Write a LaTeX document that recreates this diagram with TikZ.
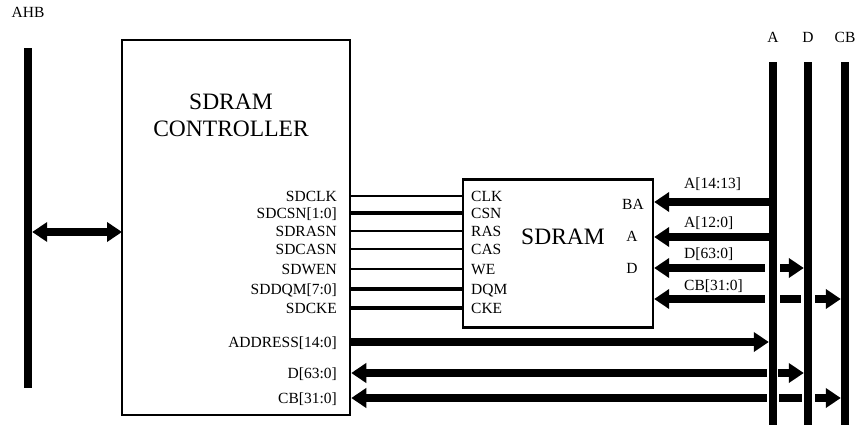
\documentclass[tikz,border=0pt]{standalone}
\usepackage{fontspec}
\setmainfont{Liberation Serif}
\usetikzlibrary{arrows.meta,positioning}
\newcommand{\sigfont}{\fontsize{15.5}{17}\selectfont}
\newcommand{\blockfont}{\fontsize{23.5}{27}\selectfont}
\tikzset{
  block/.style={
    draw=black,
    line width=2.5pt,
    inner sep=0pt
  },
  bus-bar/.style={
    fill=black,
    inner sep=0pt,
    minimum width=8pt
  },
  sig-label/.style={
    font=\sigfont,
    inner sep=0pt,
    text height=10.3pt,
    text depth=0pt
  },
  thin-sig/.style={line width=1.2pt},
  thick-sig/.style={line width=3.5pt},
  bus-arrow/.style={
    line width=7.5pt,
    >={Triangle[length=15pt,width=19pt]}
  }
}

\begin{document}
\begin{tikzpicture}[x=1pt, y=-1pt]
  \useasboundingbox (0,0) rectangle (856,425);
  % AHB side
  \node[bus-bar, minimum height=340pt] (ahb) at (28,218) {};
  \node[sig-label, above=30pt of ahb] (ahb-label) {AHB};
  \node[block, minimum width=228pt, minimum height=375pt] (ctrl) at (236,227.5) {};
  \node[font=\blockfont, align=center] (ctrl-title) at (231,115) {SDRAM\\CONTROLLER};
  \coordinate (ctrl-port) at (122,232);
  \draw[bus-arrow, <->] (ahb.east |- ctrl-port) -- (ctrl-port);
  % memory
  \node[block, line width=2.3pt, minimum width=190pt, minimum height=148pt] (sdram) at (558,253.5) {};
  \node[font=\blockfont] (sdram-title) at (563,236.5) {SDRAM};
  \foreach \n/\s/\p/\y/\w in {clk/SDCLK/CLK/196/thin-sig,
      csn/SDCSN[1:0]/CSN/213/thick-sig,
      ras/SDRASN/RAS/231/thin-sig,
      cas/SDCASN/CAS/249/thin-sig,
      we/SDWEN/WE/269/thin-sig,
      dqm/SDDQM[7:0]/DQM/289/thick-sig,
      cke/SDCKE/CKE/308/thick-sig} {
    \node[sig-label, anchor=east] (c-\n) at (337,\y) {\s};
    \node[sig-label, anchor=west] (p-\n) at (471,\y) {\p};
    \draw[\w] (ctrl.east |- p-\n) -- (sdram.west |- p-\n);
  }
  \node[sig-label] (p-ba) at (633,204) {BA};
  \node[sig-label] (p-a) at (632,236.5) {A};
  \node[sig-label] (p-d) at (632,268) {D};
  % memory buses
  \node[bus-bar, minimum height=363pt] (bus-a) at (773,243.5) {};
  \node[bus-bar, minimum height=363pt] (bus-d) at (808,243.5) {};
  \node[bus-bar, minimum height=363pt] (bus-cb) at (845,243.5) {};
  \node[sig-label, above=19pt of bus-a] (bus-a-label) {A};
  \node[sig-label, above=19pt of bus-d] (bus-d-label) {D};
  \node[sig-label, above=19pt of bus-cb] (bus-cb-label) {CB};
  \coordinate (tap-ba) at (773,202);
  \coordinate (tap-a) at (773,237);
  \coordinate (tap-d) at (773,268);
  \coordinate (tap-cb) at (773,299);
  \node[sig-label, anchor=west] (l-ba) at (684,183) {A[14:13]};
  \node[sig-label, anchor=west] (l-a) at (684,222) {A[12:0]};
  \node[sig-label, anchor=west] (l-d) at (684,253) {D[63:0]};
  \node[sig-label, anchor=west] (l-cb) at (684,285) {CB[31:0]};
  \draw[bus-arrow, <-] (sdram.east |- tap-ba) -- (tap-ba);
  \draw[bus-arrow, <-] (sdram.east |- tap-a) -- (tap-a);
  \draw[bus-arrow, <-, shorten >=4pt] (sdram.east |- tap-d) -- (bus-a.west |- tap-d);
  \draw[bus-arrow, ->, shorten <=3pt] (bus-a.east |- tap-d) -- (bus-d.west |- tap-d);
  \draw[bus-arrow, <-, shorten >=4pt] (sdram.east |- tap-cb) -- (bus-a.west |- tap-cb);
  \draw[bus-arrow, shorten <=3pt, shorten >=3pt] (bus-a.east |- tap-cb) -- (bus-d.west |- tap-cb);
  \draw[bus-arrow, ->, shorten <=3pt] (bus-d.east |- tap-cb) -- (bus-cb.west |- tap-cb);
  % controller buses
  \node[sig-label, anchor=east] (c-addr) at (337,342) {ADDRESS[14:0]};
  \node[sig-label, anchor=east] (c-data) at (337,373) {D[63:0]};
  \node[sig-label, anchor=east] (c-check) at (337,398) {CB[31:0]};
  \draw[bus-arrow, ->] (ctrl.east |- c-addr) -- (bus-a.west |- c-addr);
  \draw[bus-arrow, <-, shorten >=2pt] (ctrl.east |- c-data) -- (bus-a.west |- c-data);
  \draw[bus-arrow, ->, shorten <=1pt] (bus-a.east |- c-data) -- (bus-d.west |- c-data);
  \draw[bus-arrow, <-, shorten >=2pt] (ctrl.east |- c-check) -- (bus-a.west |- c-check);
  \draw[bus-arrow, shorten <=2pt, shorten >=2pt] (bus-a.east |- c-check) -- (bus-d.west |- c-check);
  \draw[bus-arrow, ->, shorten <=3pt] (bus-d.east |- c-check) -- (bus-cb.west |- c-check);
\end{tikzpicture}
\end{document}
